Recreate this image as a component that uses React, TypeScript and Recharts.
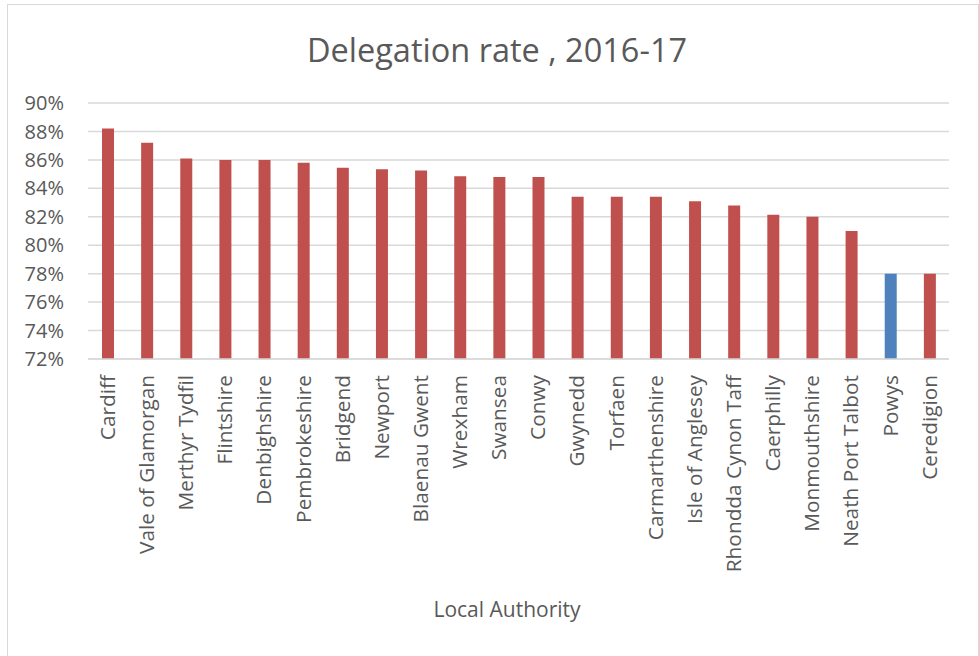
import { BarChart, Bar, XAxis, YAxis, CartesianGrid, Cell } from "recharts";

const authorities = [
  "Cardiff",
  "Vale of Glamorgan",
  "Merthyr Tydfil",
  "Flintshire",
  "Denbighshire",
  "Pembrokeshire",
  "Bridgend",
  "Newport",
  "Blaenau Gwent",
  "Wrexham",
  "Swansea",
  "Conwy",
  "Gwynedd",
  "Torfaen",
  "Carmarthenshire",
  "Isle of Anglesey",
  "Rhondda Cynon Taff",
  "Caerphilly",
  "Monmouthshire",
  "Neath Port Talbot",
  "Powys",
  "Ceredigion",
];

const rates = [
  88.2, 87.2, 86.1, 86.0, 86.0, 85.8, 85.45, 85.35, 85.25, 84.85, 84.8, 84.8,
  83.4, 83.4, 83.4, 83.1, 82.8, 82.15, 82.0, 81.0, 78.0, 78.0,
];

const yTicks = [72, 74, 76, 78, 80, 82, 84, 86, 88, 90];
const highlight = "Powys";

const FONT = "'Open Sans', sans-serif";
const TEXT = "#595959";
const GRID = "#D9D9D9";
const RED = "#C0504D";
const BLUE = "#4F81BD";

const data = authorities.map((name, i) => ({ name, rate: rates[i] }));

function XTick({ x, y, payload }: any) {
  return (
    <g transform={`translate(${x},${y})`}>
      <text
        transform="rotate(-90)"
        x={0}
        y={0}
        dy="0.35em"
        textAnchor="end"
        fill={TEXT}
        fontSize={20.8}
        fontFamily={FONT}
      >
        {payload.value}
      </text>
    </g>
  );
}

export default function App() {
  return (
    <div
      style={{
        position: "absolute",
        left: 0,
        top: 0,
        width: 979,
        height: 656,
        overflow: "hidden",
        background: "#fff",
        fontFamily: FONT,
      }}
    >
      <div
        style={{
          position: "absolute",
          left: 7,
          top: 4,
          width: 970,
          height: 680,
          border: `1px solid ${GRID}`,
        }}
      />
      <div
        style={{
          position: "absolute",
          left: 0,
          width: 994,
          top: 27,
          textAlign: "center",
          fontSize: 32.5,
          color: TEXT,
          whiteSpace: "nowrap",
        }}
      >
        Delegation rate , 2016-17
      </div>
      <div
        style={{
          position: "absolute",
          left: 0,
          width: 1014,
          top: 595,
          textAlign: "center",
          fontSize: 21,
          color: TEXT,
          whiteSpace: "nowrap",
        }}
      >
        Local Authority
      </div>
      <div style={{ position: "absolute", left: 0, top: 0 }}>
        <BarChart
          width={979}
          height={656}
          data={data}
          margin={{ top: 103, right: 30, bottom: 0, left: 0 }}
          barSize={12}
        >
          <CartesianGrid
            vertical={false}
            stroke={GRID}
            strokeWidth={1.5}
          />
          <XAxis
            dataKey="name"
            interval={0}
            height={297}
            tickLine={false}
            tickSize={0}
            tickMargin={16}
            axisLine={{ stroke: GRID, strokeWidth: 1.5 }}
            tick={<XTick />}
          />
          <YAxis
            width={88}
            domain={[72, 90]}
            ticks={yTicks}
            allowDataOverflow
            tickLine={false}
            tickSize={0}
            tickMargin={24}
            axisLine={false}
            tickFormatter={(v: number) => `${v}%`}
            tick={{ fill: TEXT, fontSize: 20, fontFamily: FONT }}
          />
          <Bar dataKey="rate" isAnimationActive={false}>
            {data.map((d) => (
              <Cell key={d.name} fill={d.name === highlight ? BLUE : RED} />
            ))}
          </Bar>
        </BarChart>
      </div>
    </div>
  );
}
